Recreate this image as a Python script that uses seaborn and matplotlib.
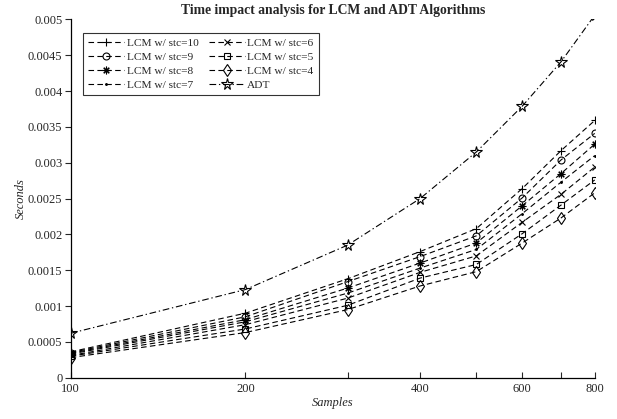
import numpy as np
import pandas as pd
import matplotlib
matplotlib.use("Agg")
import matplotlib.pyplot as plt
from matplotlib.ticker import FixedLocator, FixedFormatter, NullLocator
import seaborn as sns

# Data
samples = [100, 200, 300, 400, 500, 600, 700, 800]
lcm_stc10 = [0.00036, 0.00090, 0.00138, 0.00176, 0.00208, 0.00264, 0.00317, 0.00359]
lcm_stc9 = [0.00035, 0.00085, 0.00134, 0.00169, 0.00198, 0.00251, 0.00304, 0.00341]
lcm_stc8 = [0.00034, 0.00081, 0.00125, 0.00160, 0.00188, 0.00240, 0.00285, 0.00326]
lcm_stc7 = [0.00033, 0.00078, 0.00118, 0.00153, 0.00179, 0.00229, 0.00273, 0.00310]
lcm_stc6 = [0.00031, 0.00074, 0.00111, 0.00147, 0.00170, 0.00217, 0.00256, 0.00294]
lcm_stc5 = [0.00030, 0.00068, 0.00101, 0.00139, 0.00158, 0.00201, 0.00241, 0.00276]
lcm_stc4 = [0.00028, 0.00063, 0.00095, 0.00128, 0.00148, 0.00188, 0.00223, 0.00258]
adt = [0.00062, 0.00123, 0.00185, 0.00250, 0.00315, 0.00379, 0.00441, 0.00506]

series_names = ["LCM w/ stc=10", "LCM w/ stc=9", "LCM w/ stc=8", "LCM w/ stc=7",
                "LCM w/ stc=6", "LCM w/ stc=5", "LCM w/ stc=4", "ADT"]
series_values = [lcm_stc10, lcm_stc9, lcm_stc8, lcm_stc7,
                 lcm_stc6, lcm_stc5, lcm_stc4, adt]

x_tick_labels = ["100", "200", "", "400", "", "600", "", "800"]
y_ticks = [0, 0.0005, 0.001, 0.0015, 0.002, 0.0025, 0.003, 0.0035, 0.004, 0.0045, 0.005]
y_tick_labels = ["0", "0.0005", "0.001", "0.0015", "0.002", "0.0025",
                 "0.003", "0.0035", "0.004", "0.0045", "0.005"]

# marker styles (marker, size, open?)
markers = [("+", 6, False), ("o", 5, True), ((8, 2, 0), 5.5, False), (".", 2.5, False),
           ("x", 4.5, False), ("s", 4.5, True), ("d", 6, True), ("*", 8.5, True)]

sns.set_style("ticks")
plt.rcParams["font.family"] = ["Liberation Serif", "DejaVu Serif"]

fig = plt.figure(figsize=(6.17, 4.19), dpi=100)
ax = fig.add_axes([0.1146, 0.0986, 0.9639 - 0.1146, 0.9535 - 0.0986])

for name, vals, (mk, ms, hollow) in zip(series_names, series_values, markers):
    df = pd.DataFrame({"Samples": samples, "Seconds": vals})
    is_adt = name == "ADT"
    sns.lineplot(
        data=df, x="Samples", y="Seconds", ax=ax, label=name,
        color="black", linewidth=0.8,
        linestyle=(0, (6, 2.5, 1.2, 2.5)) if is_adt else (0, (5, 3)),
        marker=mk, markersize=ms,
        markerfacecolor="none" if hollow else "black",
        markeredgecolor="black", markeredgewidth=0.8,
    )

ax.set_xscale("log")
ax.set_xlim(100, 800)
ax.set_ylim(0, 0.005)
ax.xaxis.set_major_locator(FixedLocator(samples))
ax.xaxis.set_major_formatter(FixedFormatter(x_tick_labels))
ax.xaxis.set_minor_locator(NullLocator())
ax.yaxis.set_major_locator(FixedLocator(y_ticks))
ax.yaxis.set_major_formatter(FixedFormatter(y_tick_labels))

ax.tick_params(axis="x", direction="in", length=4, width=0.8, labelsize=9, pad=4)
ax.tick_params(axis="y", direction="out", length=4, width=0.8, labelsize=9, pad=2)
sns.despine(ax=ax)
for sp in ["left", "bottom"]:
    ax.spines[sp].set_linewidth(0.9)
    ax.spines[sp].set_color("black")

ax.set_xlabel("Samples", fontstyle="italic", fontsize=9, labelpad=1)
ax.set_ylabel("Seconds", fontstyle="italic", fontsize=9, labelpad=1)
ax.set_title("Time impact analysis for LCM and ADT Algorithms",
             fontweight="bold", fontsize=9.8, pad=4)

leg = ax.legend(loc="upper left", bbox_to_anchor=(0.023, 0.962), borderaxespad=0,
                ncol=2, fontsize=8.2, frameon=True, fancybox=False,
                handlelength=3.2, handletextpad=0.2, columnspacing=0.9,
                labelspacing=0.35, borderpad=0.45)
leg.get_frame().set_edgecolor("black")
leg.get_frame().set_linewidth(0.8)

fig.savefig("out.png", dpi=100)
